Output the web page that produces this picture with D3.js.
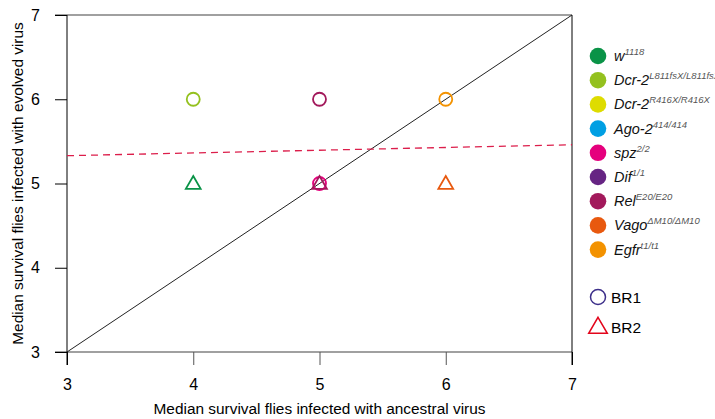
<!DOCTYPE html>
<html>
<head>
<meta charset="utf-8">
<script src="https://cdn.jsdelivr.net/npm/d3@7"></script>
<style>
  body { margin: 0; background: #fff; }
  svg { font-family: "Liberation Sans", Arial, sans-serif; }
</style>
</head>
<body>
<div id="chart"></div>
<script>
// strains shown in the legend
const strains = ['w', 'Dcr-2', 'Dcr-2', 'Ago-2', 'spz', 'Dif', 'Rel', 'Vago', 'Egfr'];
const alleles = ['1118', 'L811fsX/L811fsX', 'R416X/R416X', '414/414', '2/2', '1/1', 'E20/E20', 'ΔM10/ΔM10', 't1/t1'];
const strainColors = ['#0a9347', '#94c11f', '#dedc00', '#009fe3', '#e5007d', '#662483', '#a2195b', '#e8590f', '#f39200'];

// points: ancestral vs evolved median survival
const pointStrain = [1, 6, 4, 8, 0, 6, 7];
const pointRep = ['BR1', 'BR1', 'BR1', 'BR1', 'BR2', 'BR2', 'BR2'];
const ancestral = [4, 5, 5, 6, 4, 5, 6];
const evolved = [6, 6, 5, 6, 5, 5, 5];

// fitted regression line (dashed)
const fitX = [3, 7];
const fitY = [5.33, 5.46];

const xTicks = [3, 4, 5, 6, 7];
const yTicks = [3, 4, 5, 6, 7];

const width = 715, height = 419;
const svg = d3.select('#chart').append('svg')
  .attr('width', width)
  .attr('height', height);

const x = d3.scaleLinear().domain([3, 7]).range([67, 572]);
const y = d3.scaleLinear().domain([3, 7]).range([352, 15]);

// frame: grey top/bottom, black sides
svg.append('line').attr('x1', 55).attr('x2', x(7)).attr('y1', y(7)).attr('y2', y(7))
  .attr('stroke', '#808080').attr('stroke-width', 1.5);
svg.append('line').attr('x1', 55).attr('x2', x(7)).attr('y1', y(3)).attr('y2', y(3))
  .attr('stroke', '#808080').attr('stroke-width', 1.5);
svg.append('line').attr('x1', x(3)).attr('x2', x(3)).attr('y1', y(7)).attr('y2', y(3) + 13)
  .attr('stroke', '#000').attr('stroke-width', 1);
svg.append('line').attr('x1', x(7)).attr('x2', x(7)).attr('y1', y(7)).attr('y2', y(3) + 13)
  .attr('stroke', '#000').attr('stroke-width', 1);

// y axis
const yAxis = svg.append('g')
  .attr('transform', `translate(${x(3)},0)`)
  .call(d3.axisLeft(y).tickValues(yTicks).tickSize(12).tickPadding(15).tickFormat(d3.format('d')));
yAxis.select('.domain').remove();
yAxis.selectAll('text').attr('font-size', 16).attr('fill', '#000')
  .attr('font-family', '"Liberation Sans", Arial, sans-serif');

// x axis
const xAxis = svg.append('g')
  .attr('transform', `translate(0,${y(3)})`)
  .call(d3.axisBottom(x).tickValues(xTicks).tickSize(13).tickPadding(14).tickFormat(d3.format('d')));
xAxis.select('.domain').remove();
xAxis.selectAll('line').attr('stroke', d => (d === 3 || d === 7) ? '#000' : '#555');
xAxis.selectAll('text').attr('font-size', 16).attr('fill', '#000')
  .attr('font-family', '"Liberation Sans", Arial, sans-serif');

// axis titles
svg.append('text')
  .attr('x', (x(3) + x(7)) / 2).attr('y', 414)
  .attr('text-anchor', 'middle').attr('font-size', 15.4)
  .text('Median survival flies infected with ancestral virus');
svg.append('text')
  .attr('transform', `translate(23,${(y(3) + y(7)) / 2}) rotate(-90)`)
  .attr('text-anchor', 'middle').attr('font-size', 15.4)
  .text('Median survival flies infected with evolved virus');

// identity line
svg.append('line')
  .attr('x1', x(3)).attr('y1', y(3)).attr('x2', x(7)).attr('y2', y(7))
  .attr('stroke', '#222').attr('stroke-width', 1);

// dashed fit line
svg.append('line')
  .attr('x1', x(fitX[0])).attr('y1', y(fitY[0]))
  .attr('x2', x(fitX[1])).attr('y2', y(fitY[1]))
  .attr('stroke', '#dc1e4b').attr('stroke-width', 1.3)
  .attr('stroke-dasharray', '7,5');

// points
const triangle = d3.symbol().type(d3.symbolTriangle).size(95);
const pts = d3.range(ancestral.length).map(i => ({
  x: ancestral[i], y: evolved[i], c: strainColors[pointStrain[i]], rep: pointRep[i]
}));
const g = svg.append('g');
pts.forEach(p => {
  if (p.rep === 'BR1') {
    g.append('circle')
      .attr('cx', x(p.x)).attr('cy', y(p.y)).attr('r', 6.5)
      .attr('fill', 'none').attr('stroke', p.c).attr('stroke-width', 1.8);
  } else {
    g.append('path')
      .attr('d', triangle)
      .attr('transform', `translate(${x(p.x)},${y(p.y) + 1})`)
      .attr('fill', 'none').attr('stroke', p.c).attr('stroke-width', 1.8);
  }
});

// legend
const leg = svg.append('g');
strains.forEach((s, i) => {
  const yy = 56 + i * 24.2;
  leg.append('circle').attr('cx', 598).attr('cy', yy).attr('r', 8.3).attr('fill', strainColors[i]);
  const t = leg.append('text').attr('x', 614).attr('y', yy + 5)
    .attr('font-size', 14.5).attr('font-style', 'italic').attr('fill', '#111');
  t.append('tspan').text(s);
  t.append('tspan').attr('dy', -6).attr('font-size', 9.5).attr('fill', '#555').text(alleles[i]);
});

leg.append('circle').attr('cx', 598).attr('cy', 297).attr('r', 7.5)
  .attr('fill', 'none').attr('stroke', '#3d2f8a').attr('stroke-width', 1.5);
leg.append('text').attr('x', 611).attr('y', 303).attr('font-size', 15.5).text('BR1');
leg.append('path').attr('d', d3.symbol().type(d3.symbolTriangle).size(150))
  .attr('transform', 'translate(598,328)')
  .attr('fill', 'none').attr('stroke', '#e3051b').attr('stroke-width', 1.5);
leg.append('text').attr('x', 611).attr('y', 333).attr('font-size', 15.5).text('BR2');
</script>
</body>
</html>
